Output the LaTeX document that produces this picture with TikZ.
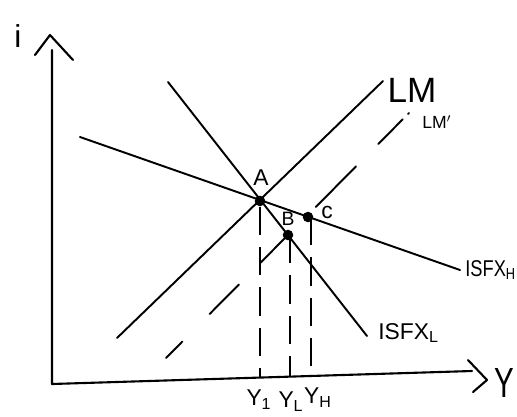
\documentclass[tikz,border=0pt]{standalone}
\usepackage{fontspec}
\setmainfont{Liberation Sans}
\begin{document}
\begin{tikzpicture}[x=0.02cm,y=-0.02cm,
  curve/.style={line width=1.1pt,line cap=round},
  axis/.style={line width=1.2pt,line cap=round,line join=round},
  guide/.style={line width=1.1pt,dash pattern=on 16pt off 7pt},
  shifted/.style={line width=1.1pt,line cap=round,
    dash pattern=on 13.2pt off 22.1pt on 23.6pt off 17.6pt on 21.7pt off 22.9pt on 32.5pt off 18pt on 19.7pt off 4.4pt on 1.5pt off 10pt},
  pt/.style={circle,fill=black,inner sep=0pt,minimum size=6pt},
  lbl/.style={inner sep=0pt,font=\fontsize{13}{13}\selectfont}]
\useasboundingbox (0,0) rectangle (517,416);
% axes
\coordinate (O) at (52,384);
\coordinate (Itop) at (52,50);
\coordinate (Yend) at (472,371);
\draw[axis] (Itop) -- (O) -- (Yend);
\coordinate (ia1) at (35,55); \coordinate (ia2) at (50,35); \coordinate (ia3) at (73,60);
\draw[axis] (ia1) -- (ia2) -- (ia3);
\coordinate (ya1) at (468,360); \coordinate (ya2) at (487,380); \coordinate (ya3) at (473,392);
\draw[axis] (ya1) -- (ya2) -- (ya3);
\node[lbl,font=\fontsize{18}{18}\selectfont] (ilab) at (18,36) {i};
\node[lbl,font=\fontsize{24}{24}\selectfont] (ylab) at (504,383) {\scalebox{0.7}[1]{Y}};
% points
\node[pt] (A) at (260,201) {};
\node[pt] (B) at (288,235) {};
\node[pt] (C) at (308,217) {};
% curves
\coordinate (LMs) at (117,338); \coordinate (LMe) at (383,81);
\draw[curve] (LMs) -- (LMe);
\coordinate (LLs) at (168,82); \coordinate (LLe) at (367,336);
\draw[curve] (LLs) -- (LLe);
\coordinate (LHs) at (80,137); \coordinate (LHe) at (460,270);
\draw[curve] (LHs) -- (LHe);
\coordinate (L2s) at (166,358); \coordinate (L2e) at (409,113);
\draw[shifted] (L2s) -- (L2e);
% vertical guides
\coordinate (Y1) at (260,377.6);
\coordinate (YL) at (290,376.7);
\coordinate (YH) at (311,376);
\coordinate (Bt) at (290,235);
\coordinate (Ct) at (311,217);
\draw[guide] (A) -- (Y1);
\draw[guide] (Bt) -- (YL);
\draw[guide] (Ct) -- (YH);
% labels
\node[lbl] (Alab) at (261,178) {A};
\node[lbl,font=\fontsize{11}{11}\selectfont] (Blab) at (288,219) {B};
\node[lbl] (Clab) at (327,212) {c};
\node[lbl,font=\fontsize{20}{20}\selectfont] (LMlab) at (412,90) {LM};
\node[lbl,font=\fontsize{10}{10}\selectfont] (LM2lab) at (437,122) {LM$'$};
\node[lbl,anchor=west] (IHlab) at (465,270) {\scalebox{0.8}[1]{ISFX\textsubscript{H}}};
\node[lbl,anchor=west] (ILlab) at (378,333) {ISFX\textsubscript{L}};
\node[lbl] (Y1lab) at (259,400) {Y\textsubscript{1}};
\node[lbl] (YLlab) at (291,402) {Y\textsubscript{L}};
\node[lbl] (YHlab) at (318,398) {Y\textsubscript{H}};
\end{tikzpicture}
\end{document}
